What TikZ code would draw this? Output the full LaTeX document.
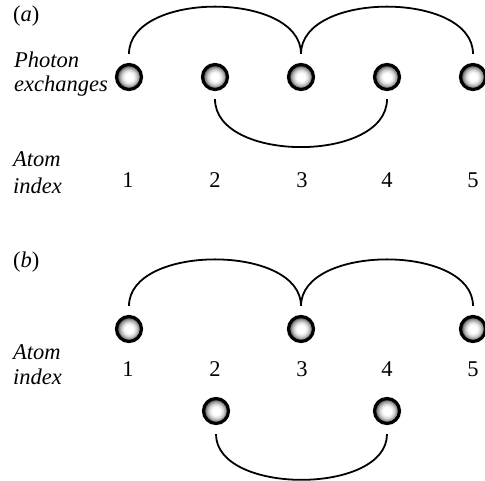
\documentclass[tikz,border=0pt]{standalone}
\usepackage{fontspec}
\setmainfont{Liberation Serif}
\pgfdeclareradialshading{ballshade}{\pgfpointorigin}{%
  color(0bp)=(white); color(8bp)=(white); color(14bp)=(black!15); color(20bp)=(black!45); color(25bp)=(black!85); color(50bp)=(black)}
\tikzset{
  atom/.style={circle, draw=black, line width=3.2pt, minimum size=25pt, inner sep=0pt, shading=ballshade},
  link/.style={line width=1.8pt, black},
  lbl/.style={font=\fontsize{22.5}{27}\selectfont\itshape, anchor=base west, inner sep=0pt},
  num/.style={font=\fontsize{22.5}{27}\selectfont, anchor=base, inner sep=0pt}
}
\begin{document}
\begin{tikzpicture}[x=1pt,y=1pt]
\useasboundingbox (0,0) rectangle (485,481);
% ---------- (a)
\node[lbl, font=\fontsize{22.5}{27}\selectfont] (la) at (13,459) {(\textit{a})};
\node[lbl] (ph) at (14,413) {Photon};
\node[lbl] (ex) at (14,389) {exchanges};
\foreach \i/\x in {1/129,2/215,3/301,4/387,5/473}{
  \node[atom] (a\i) at (\x,404) {};
}
\draw[link] ([yshift=9pt]a1.north) to[out=90,in=90,distance=63pt] ([yshift=9pt]a3.north);
\draw[link] ([yshift=9pt]a3.north) to[out=90,in=90,distance=63pt] ([yshift=9pt]a5.north);
\draw[link] ([yshift=-8pt]a2.south) to[out=-90,in=-90,distance=64pt] ([yshift=-8pt]a4.south);
\node[lbl] (at1) at (13,314) {Atom};
\node[lbl] (ix1) at (13,287) {index};
\foreach \i/\x in {1/128,2/215,3/302,4/387,5/473}{
  \node[num] (na\i) at (\x,293) {\i};
}
% ---------- (b)
\node[lbl, font=\fontsize{22.5}{27}\selectfont] (lb) at (13,213) {(\textit{b})};
\foreach \i/\x in {1/129,3/301,5/473}{
  \node[atom] (b\i) at (\x,152) {};
}
\foreach \i/\x in {2/216,4/387}{
  \node[atom] (b\i) at (\x,70) {};
}
\draw[link] ([yshift=9pt]b1.north) to[out=90,in=90,distance=62pt] ([yshift=9pt]b3.north);
\draw[link] ([yshift=9pt]b3.north) to[out=90,in=90,distance=62pt] ([yshift=9pt]b5.north);
\draw[link] ([yshift=-9pt]b2.south) to[out=-90,in=-90,distance=61pt] ([yshift=-9pt]b4.south);
\node[lbl] (at2) at (13,121) {Atom};
\node[lbl] (ix2) at (13,96) {index};
\foreach \i/\x in {1/128,2/215,3/302,4/387,5/473}{
  \node[num] (nb\i) at (\x,104) {\i};
}
\end{tikzpicture}
\end{document}
